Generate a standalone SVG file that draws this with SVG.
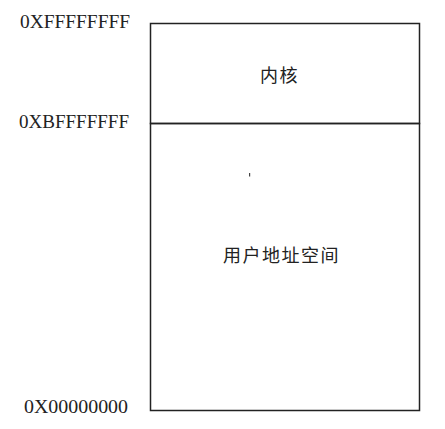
<svg xmlns="http://www.w3.org/2000/svg" width="445" height="429" viewBox="0 0 445 429">
<style>
.addr{font-family:"Liberation Serif","DejaVu Serif",serif;font-size:18px;fill:#222}
.cjk{font-family:"Liberation Serif","Noto Sans CJK SC",serif;font-size:18px;fill:#222}
.ln{fill:none;stroke:#222;stroke-width:1.5}
</style>
<rect width="445" height="429" fill="#fff"/>
<g id="kernel">
<rect class="ln" x="150.5" y="23.5" width="269" height="100"/>
<text class="cjk" x="279.5" y="81.5" text-anchor="middle" letter-spacing="1.5">内核</text>
</g>
<g id="user-space">
<rect class="ln" x="150.5" y="123.5" width="269" height="287"/>
<text class="cjk" x="281.5" y="262" text-anchor="middle" letter-spacing="1.5">用户地址空间</text>
<rect x="249" y="173" width="1.2" height="3.5" fill="#444"/>
</g>
<g id="labels">
<text class="addr" x="20" y="27.5" textLength="110" lengthAdjust="spacingAndGlyphs">0XFFFFFFFF</text>
<text class="addr" x="19" y="128" textLength="110" lengthAdjust="spacingAndGlyphs">0XBFFFFFFF</text>
<text class="addr" x="24" y="413" textLength="104" lengthAdjust="spacingAndGlyphs">0X00000000</text>
</g>
<g id="connectors"></g>
</svg>
